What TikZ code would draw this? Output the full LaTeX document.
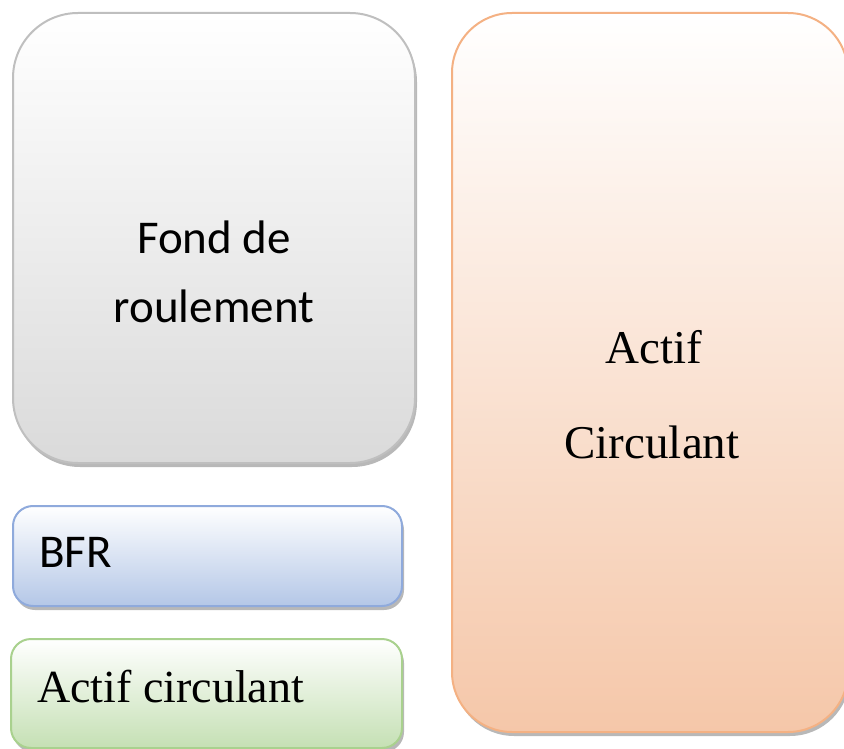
\documentclass[tikz,border=0pt]{standalone}
\usepackage{fontspec}
\setmainfont{Liberation Serif}
\newfontfamily\cali{Carlito}
\definecolor{grayedge}{HTML}{BFBFBF}
\definecolor{graybot}{HTML}{DADADA}
\definecolor{blueedge}{HTML}{8FAADC}
\definecolor{bluebot}{HTML}{B4C7E7}
\definecolor{greenedge}{HTML}{A9D18E}
\definecolor{greenbot}{HTML}{C5E0B4}
\definecolor{orangeedge}{HTML}{F4B183}
\definecolor{orangebot}{HTML}{F5C7A9}
\begin{document}
\begin{tikzpicture}[x=1pt,y=-1pt,
  box/.style={rounded corners=#1, line width=2pt},
  shadowbox/.style={rounded corners=#1, fill=black, opacity=0.28},
  sanslbl/.style={font=\cali\fontsize{47}{47}\selectfont, inner sep=0pt, anchor=base},
  seriflbl/.style={font=\fontsize{47}{47}\selectfont, inner sep=0pt, anchor=base}]
\useasboundingbox (0,0) rectangle (844,749);
% shadows
\fill[shadowbox=65] (15,17) rectangle (417,467);
\fill[shadowbox=20] (15,510) rectangle (404,610);
\fill[shadowbox=20] (13,643) rectangle (404,752);
\fill[shadowbox=60] (454,17) rectangle (850,736);
% boxes
\draw[box=65, draw=grayedge, top color=white, bottom color=graybot] (13,13) rectangle (415,463);
\draw[box=20, draw=blueedge, top color=white, bottom color=bluebot] (13,506) rectangle (402,606);
\draw[box=20, draw=greenedge, top color=white, bottom color=greenbot] (11,639) rectangle (402,748);
\draw[box=60, draw=orangeedge, top color=white, bottom color=orangebot] (452,13) rectangle (848,732);
% labels
\node[sanslbl] (fond) at (214,253) {Fond de};
\node[sanslbl] (roul) at (214,322) {roulement};
\node[sanslbl, anchor=base west] (bfr) at (39,567) {BFR};
\node[seriflbl, font=\fontsize{46}{46}\selectfont, anchor=base west] (acl) at (37,702) {Actif circulant};
\node[seriflbl] (actif) at (654,363) {Actif};
\node[seriflbl] (circ) at (652,458) {Circulant};
\end{tikzpicture}
\end{document}
